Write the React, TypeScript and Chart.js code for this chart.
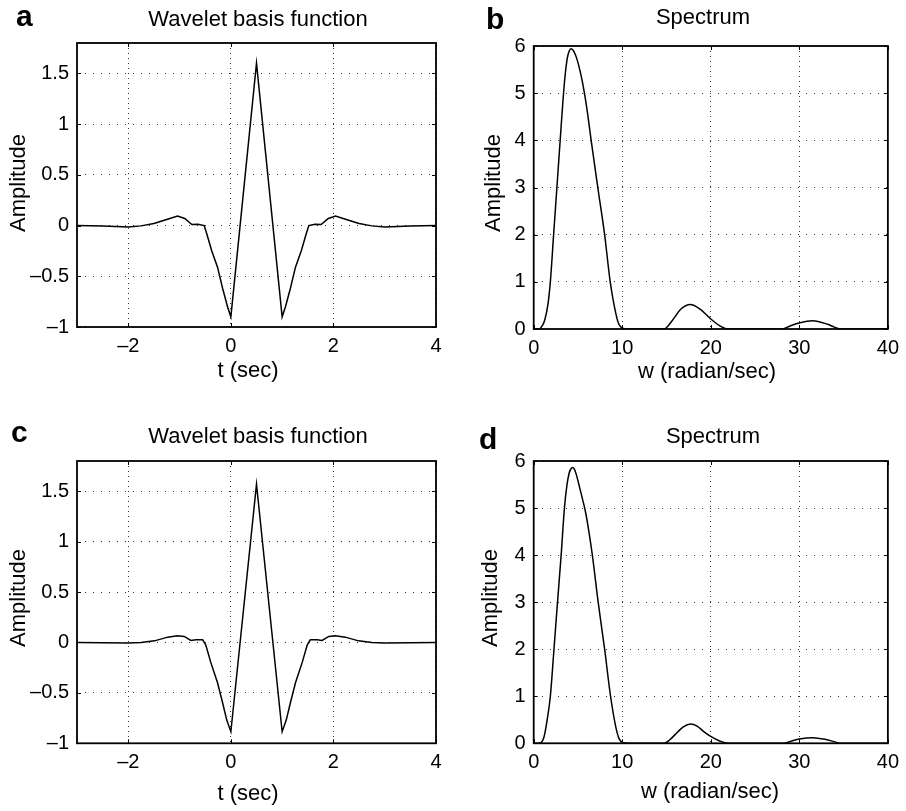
import React, { useEffect, useRef } from "react";
import { Chart, registerables } from "chart.js";

Chart.register(...registerables);

const FONT = "'Liberation Sans', Arial, Helvetica, sans-serif";

// ---------- Data ----------
// Panel a: wavelet basis function
const waveletA_t = [-3, -2.5, -2.25, -2, -1.75, -1.5, -1.25, -1.04, -0.9, -0.76, -0.64, -0.52, -0.47, -0.375, -0.26, -0.16, -0.065, 0, 0.5, 1.0, 1.065, 1.16, 1.26, 1.375, 1.47, 1.52, 1.64, 1.76, 1.9, 2.04, 2.25, 2.5, 2.75, 3, 3.25, 3.5, 4];
const waveletA_amp = [0, -0.005, -0.01, -0.013, -0.003, 0.02, 0.06, 0.095, 0.07, 0.01, 0.013, 0.0, -0.08, -0.245, -0.41, -0.62, -0.8, -0.9, 1.6, -0.9, -0.8, -0.62, -0.41, -0.245, -0.08, 0.0, 0.013, 0.01, 0.07, 0.095, 0.06, 0.02, -0.003, -0.013, -0.01, -0.005, 0];

// Panel b: spectrum
const spectrumB_w = [0, 0.62, 1.0, 1.25, 1.62, 1.88, 2.25, 2.62, 2.99, 3.3, 3.55, 3.8, 4.0, 4.21, 4.45, 4.7, 4.95, 5.2, 5.5, 5.8, 6.1, 6.43, 7.24, 8.01, 8.64, 9.12, 9.57, 10.1, 10.6, 14.75, 15.2, 15.85, 16.6, 17.7, 18.8, 19.9, 21.0, 21.95, 28.0, 28.9, 29.84, 31.5, 33.2, 33.95, 34.7, 40];
const spectrumB_amp = [0, 0, 0.08, 0.19, 0.54, 1.0, 2.0, 3.0, 4.0, 4.83, 5.38, 5.75, 5.89, 5.94, 5.91, 5.82, 5.68, 5.5, 5.24, 4.92, 4.55, 4.08, 3.0, 2.0, 1.0, 0.47, 0.12, 0.01, 0, 0, 0.07, 0.23, 0.42, 0.52, 0.42, 0.23, 0.07, 0, 0, 0.06, 0.12, 0.177, 0.1, 0.04, 0, 0];

// Panel c: wavelet basis function
const waveletC_t = [-3, -2.5, -2, -1.75, -1.49, -1.23, -1.04, -0.91, -0.78, -0.68, -0.55, -0.49, -0.39, -0.26, -0.16, -0.08, 0, 0.5, 1.0, 1.08, 1.16, 1.26, 1.39, 1.49, 1.55, 1.68, 1.78, 1.91, 2.04, 2.23, 2.49, 2.75, 3, 3.5, 4];
const waveletC_amp = [0, -0.002, -0.004, 0, 0.016, 0.053, 0.066, 0.06, 0.02, 0.026, 0.026, -0.023, -0.2, -0.4, -0.6, -0.77, -0.885, 1.57, -0.885, -0.77, -0.6, -0.4, -0.2, -0.023, 0.026, 0.026, 0.02, 0.06, 0.066, 0.053, 0.016, 0, -0.004, -0.002, 0];

// Panel d: spectrum
const spectrumD_w = [0, 0.62, 1.14, 1.5, 1.88, 2.29, 2.69, 3.1, 3.47, 3.75, 4.0, 4.2, 4.39, 4.6, 4.83, 5.1, 5.5, 5.87, 6.25, 6.61, 7.28, 8.01, 8.68, 9.27, 9.64, 10.1, 10.6, 14.75, 15.4, 16.2, 16.9, 17.7, 18.5, 19.2, 19.9, 21.0, 21.95, 28.2, 29.0, 30.0, 31.5, 33.0, 34.0, 34.7, 40];
const spectrumD_amp = [0, 0, 0.12, 0.47, 1.0, 2.0, 3.0, 4.0, 5.0, 5.48, 5.74, 5.83, 5.86, 5.82, 5.7, 5.5, 5.2, 4.9, 4.48, 4.02, 3.0, 2.0, 1.0, 0.35, 0.1, 0.01, 0, 0, 0.08, 0.23, 0.35, 0.41, 0.36, 0.25, 0.16, 0.05, 0, 0, 0.04, 0.09, 0.12, 0.08, 0.03, 0, 0];

// Tick labels
const timeTicks = [-2, 0, 2, 4];
const waveletAmpTicks = [-1, -0.5, 0, 0.5, 1, 1.5];
const freqTicks = [0, 10, 20, 30, 40];
const spectrumAmpTicks = [0, 1, 2, 3, 4, 5, 6];

// ---------- Panel layout ----------
type PanelSpec = {
  letter: string;
  title: string;
  xLabel: string;
  yLabel: string;
  xs: number[];
  ys: number[];
  xMin: number;
  xMax: number;
  yMin: number;
  yMax: number;
  xTicks: number[];
  yTicks: number[];
  smooth: boolean;
  box: { left: number; top: number; width: number; height: number };
  area: { left: number; top: number; right: number; bottom: number };
  letterPos: [number, number];
  titlePos: [number, number];
  xLabelPos: [number, number];
  yLabelPos: [number, number];
};

const panels: PanelSpec[] = [
  {
    letter: "a",
    title: "Wavelet basis function",
    xLabel: "t (sec)",
    yLabel: "Amplitude",
    xs: waveletA_t,
    ys: waveletA_amp,
    xMin: -3,
    xMax: 4,
    yMin: -1,
    yMax: 1.8,
    xTicks: timeTicks,
    yTicks: waveletAmpTicks,
    smooth: false,
    box: { left: 0, top: 0, width: 453, height: 400 },
    area: { left: 77, top: 43, right: 436, bottom: 327 },
    letterPos: [16, 26],
    titlePos: [258, 26],
    xLabelPos: [248, 377],
    yLabelPos: [25, 183],
  },
  {
    letter: "b",
    title: "Spectrum",
    xLabel: "w (radian/sec)",
    yLabel: "Amplitude",
    xs: spectrumB_w,
    ys: spectrumB_amp,
    xMin: 0,
    xMax: 40,
    yMin: 0,
    yMax: 6,
    xTicks: freqTicks,
    yTicks: spectrumAmpTicks,
    smooth: true,
    box: { left: 453, top: 0, width: 453, height: 400 },
    area: { left: 80.7, top: 46, right: 441.7, bottom: 329 },
    letterPos: [33, 29],
    titlePos: [250, 24],
    xLabelPos: [254, 378],
    yLabelPos: [46.5, 183],
  },
  {
    letter: "c",
    title: "Wavelet basis function",
    xLabel: "t (sec)",
    yLabel: "Amplitude",
    xs: waveletC_t,
    ys: waveletC_amp,
    xMin: -3,
    xMax: 4,
    yMin: -1,
    yMax: 1.8,
    xTicks: timeTicks,
    yTicks: waveletAmpTicks,
    smooth: false,
    box: { left: 0, top: 400, width: 453, height: 411 },
    area: { left: 77, top: 61, right: 436, bottom: 343.3 },
    letterPos: [11, 42],
    titlePos: [258, 43],
    xLabelPos: [248, 400],
    yLabelPos: [25, 198],
  },
  {
    letter: "d",
    title: "Spectrum",
    xLabel: "w (radian/sec)",
    yLabel: "Amplitude",
    xs: spectrumD_w,
    ys: spectrumD_amp,
    xMin: 0,
    xMax: 40,
    yMin: 0,
    yMax: 6,
    xTicks: freqTicks,
    yTicks: spectrumAmpTicks,
    smooth: true,
    box: { left: 453, top: 400, width: 453, height: 411 },
    area: { left: 80.7, top: 61, right: 441.7, bottom: 343.3 },
    letterPos: [26, 49],
    titlePos: [260, 43],
    xLabelPos: [257, 398],
    yLabelPos: [43.5, 198],
  },
];

function fmtTick(v: number): string {
  if (v < 0) return "\u2013" + String(Math.abs(v));
  return String(v);
}

function PanelChart({ p }: { p: PanelSpec }) {
  const ref = useRef<HTMLCanvasElement>(null);

  useEffect(() => {
    const canvas = ref.current;
    if (!canvas) return;

    const decorations = {
      id: "decorations",
      afterDraw(chart: any) {
        const { ctx, chartArea: a, scales } = chart;
        ctx.save();
        ctx.setLineDash([]);
        // inward tick marks
        ctx.strokeStyle = "#000";
        ctx.lineWidth = 1;
        const tl = 4;
        for (const v of p.xTicks) {
          const x = Math.round(scales.x.getPixelForValue(v)) + 0.5;
          ctx.beginPath();
          ctx.moveTo(x, a.bottom);
          ctx.lineTo(x, a.bottom - tl);
          ctx.moveTo(x, a.top);
          ctx.lineTo(x, a.top + tl);
          ctx.stroke();
        }
        for (const v of p.yTicks) {
          const y = Math.round(scales.y.getPixelForValue(v)) + 0.5;
          ctx.beginPath();
          ctx.moveTo(a.left, y);
          ctx.lineTo(a.left + tl, y);
          ctx.moveTo(a.right, y);
          ctx.lineTo(a.right - tl, y);
          ctx.stroke();
        }
        // frame
        ctx.lineWidth = 1.8;
        ctx.strokeRect(a.left, a.top, a.right - a.left, a.bottom - a.top);

        // texts
        ctx.fillStyle = "#000";
        ctx.textBaseline = "alphabetic";
        ctx.font = `bold 30px ${FONT}`;
        ctx.textAlign = "left";
        ctx.fillText(p.letter, p.letterPos[0], p.letterPos[1]);

        ctx.font = `22px ${FONT}`;
        ctx.textAlign = "center";
        ctx.fillText(p.title, p.titlePos[0], p.titlePos[1]);
        ctx.fillText(p.xLabel, p.xLabelPos[0], p.xLabelPos[1]);

        ctx.translate(p.yLabelPos[0], p.yLabelPos[1]);
        ctx.rotate(-Math.PI / 2);
        ctx.fillText(p.yLabel, 0, 0);
        ctx.restore();
      },
    };

    const chart = new Chart(canvas, {
      type: "line",
      data: {
        datasets: [
          {
            data: p.xs.map((x, i) => ({ x, y: p.ys[i] })),
            borderColor: "#000",
            borderWidth: 1.5,
            pointRadius: 0,
            fill: false,
            tension: 0,
            cubicInterpolationMode: p.smooth ? "monotone" : "default",
          },
        ],
      },
      options: {
        animation: false,
        responsive: false,
        devicePixelRatio: 1,
        events: [],
        layout: {
          padding: {
            left: 0,
            top: p.area.top,
            right: p.box.width - p.area.right,
            bottom: 0,
          },
        },
        plugins: {
          legend: { display: false },
          title: { display: false },
          tooltip: { enabled: false },
        },
        scales: {
          x: {
            type: "linear",
            min: p.xMin,
            max: p.xMax,
            afterBuildTicks: (s: any) => {
              s.ticks = p.xTicks.map((v) => ({ value: v }));
            },
            afterFit: (s: any) => {
              s.height = p.box.height - p.area.bottom;
            },
            ticks: {
              color: "#000",
              font: { family: FONT, size: 20 },
              padding: 7,
              maxRotation: 0,
              autoSkip: false,
              callback: (v: any) => fmtTick(Number(v)),
            },
            grid: {
              color: "rgba(0,0,0,0.8)",
              lineWidth: 1,
              drawTicks: false,
            },
            border: { display: false, dash: [1, 4] },
          },
          y: {
            type: "linear",
            min: p.yMin,
            max: p.yMax,
            afterBuildTicks: (s: any) => {
              s.ticks = p.yTicks.map((v) => ({ value: v }));
            },
            afterFit: (s: any) => {
              s.width = p.area.left;
            },
            ticks: {
              color: "#000",
              font: { family: FONT, size: 20 },
              padding: 8,
              autoSkip: false,
              callback: (v: any) => fmtTick(Number(v)),
            },
            grid: {
              color: "rgba(0,0,0,0.8)",
              lineWidth: 1,
              drawTicks: false,
            },
            border: { display: false, dash: [1, 7] },
          },
        },
      },
      plugins: [decorations],
    } as any);

    return () => chart.destroy();
  }, [p]);

  return (
    <canvas
      ref={ref}
      width={p.box.width}
      height={p.box.height}
      style={{
        position: "absolute",
        left: p.box.left,
        top: p.box.top,
        width: p.box.width,
        height: p.box.height,
        display: "block",
      }}
    />
  );
}

export default function App() {
  return (
    <div
      style={{
        position: "absolute",
        left: 0,
        top: 0,
        width: 906,
        height: 811,
        background: "#fff",
        overflow: "hidden",
      }}
    >
      {panels.map((p) => (
        <PanelChart key={p.letter} p={p} />
      ))}
    </div>
  );
}
